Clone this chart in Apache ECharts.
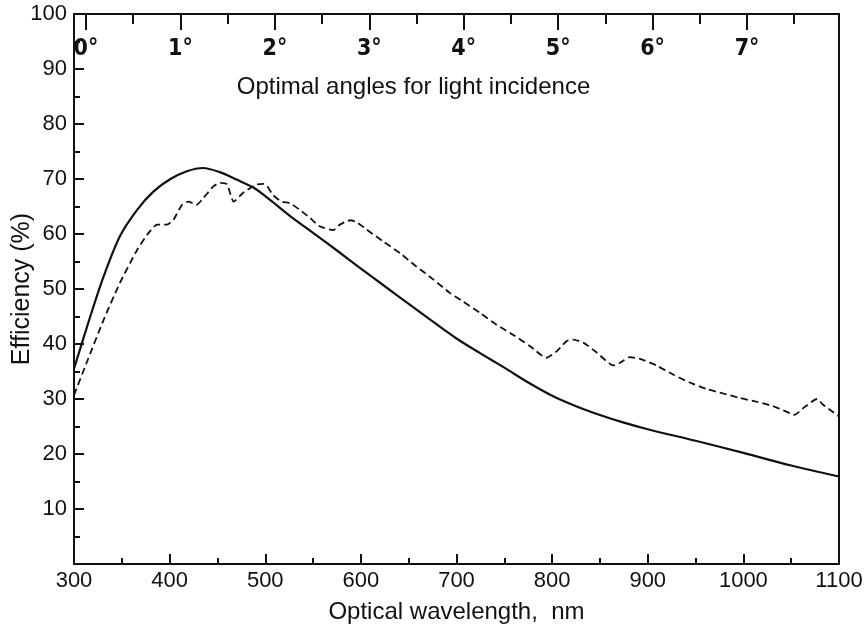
<!DOCTYPE html>
<html>
<head>
<meta charset="utf-8">
<script src="https://cdn.jsdelivr.net/npm/echarts@6/dist/echarts.min.js"></script>
<style>html,body{margin:0;padding:0;background:#fff;}#c{width:867px;height:626px;}</style>
</head>
<body>
<div id="c"></div>
<script>
// ---- data ----
const solidWavelength = [300, 317, 331, 348, 366, 383, 400, 418, 435, 453, 470, 488, 505, 525, 550, 575, 600, 625, 650, 675, 700, 725, 750, 775, 800, 825, 850, 875, 900, 950, 1000, 1050, 1100];
const solidEfficiency = [35.5, 45.0, 52.3, 59.6, 64.4, 67.7, 69.9, 71.4, 72.0, 71.2, 69.9, 68.4, 66.2, 63.4, 60.2, 57.0, 53.7, 50.5, 47.3, 44.1, 41.0, 38.3, 35.7, 33.0, 30.6, 28.7, 27.1, 25.7, 24.5, 22.4, 20.2, 17.9, 15.9];

const dashedWavelength = [300, 313, 331, 348, 366, 378, 387, 397, 404, 413, 420, 428, 435, 446, 453, 460, 467, 477, 491, 498, 502, 508, 517, 526, 536, 547, 557, 571, 578, 589, 596, 606, 623, 641, 658, 676, 693, 707, 725, 742, 759, 777, 794, 805, 815, 822, 833, 847, 864, 873, 881, 892, 909, 927, 944, 962, 979, 996, 1014, 1031, 1045, 1053, 1063, 1077, 1083, 1094, 1100];
const dashedEfficiency = [30.7, 36.5, 44.4, 51.1, 57.1, 60.2, 61.7, 61.7, 62.6, 65.3, 65.9, 65.3, 66.5, 68.7, 69.3, 69.0, 65.9, 67.5, 69.0, 69.1, 68.7, 67.1, 65.9, 65.6, 64.4, 62.9, 61.4, 60.7, 61.7, 62.5, 62.1, 60.8, 58.7, 56.5, 54.1, 51.7, 49.3, 47.7, 45.6, 43.5, 41.7, 39.6, 37.5, 38.7, 40.5, 40.8, 40.2, 38.4, 36.1, 36.8, 37.6, 37.3, 36.1, 34.4, 33.0, 31.8, 31.0, 30.2, 29.5, 28.7, 27.7, 27.1, 28.4, 30.0, 29.0, 27.6, 26.8];

const angleMajorTicks = [0, 1, 2, 3, 4, 5, 6, 7];
const angleMinorTicks = [0.5, 1.5, 2.5, 3.5, 4.5, 5.5, 6.5, 7.5];
const angleMin = -0.127;
const angleMax = 7.974;

const titleText = 'Optimal angles for light incidence';
const xName = 'Optical wavelength,  nm';
const yName = 'Efficiency (%)';

// ---- chart ----
const pairs = (xs, ys) => xs.map((x, i) => [x, ys[i]]);
const FONT = 'Liberation Sans';
const INK = '#111';

const chart = echarts.init(document.getElementById('c'), null, {renderer: 'canvas'});
chart.setOption({
  animation: false,
  backgroundColor: '#fff',
  grid: {left: 74, right: 28, top: 14, bottom: 62, show: true, borderColor: INK, borderWidth: 2, outerBoundsMode: 'none', containLabel: false},
  graphic: [{
    type: 'text', x: 413.5, y: 87,
    style: {text: titleText, fontFamily: FONT, fontSize: 24, fill: INK, align: 'center', verticalAlign: 'middle'}
  }],
  xAxis: [
    {
      type: 'value', min: 300, max: 1100, interval: 100, position: 'bottom',
      name: xName, nameLocation: 'middle', nameGap: 36, nameMoveOverlap: false,
      nameTextStyle: {fontFamily: FONT, fontSize: 24, color: INK},
      axisLine: {show: true, onZero: false, lineStyle: {color: INK, width: 2}},
      axisTick: {show: true, inside: true, length: 10, lineStyle: {color: INK, width: 2}},
      minorTick: {show: true, splitNumber: 2, length: 6, lineStyle: {color: INK, width: 2}},
      axisLabel: {margin: 6, fontFamily: FONT, fontSize: 22, color: INK, formatter: v => String(v)},
      splitLine: {show: false}
    },
    {
      type: 'value', min: angleMin, max: angleMax, position: 'top',
      axisLine: {show: true, onZero: false, lineStyle: {color: INK, width: 2}},
      axisTick: {show: true, inside: true, length: 16, customValues: angleMajorTicks, lineStyle: {color: INK, width: 2}},
      axisLabel: {show: true, inside: true, margin: 24, customValues: angleMajorTicks, formatter: v => v + '°',
        fontFamily: 'DejaVu Sans Condensed', fontWeight: 'bold', fontSize: 23, color: INK},
      splitLine: {show: false}
    },
    {
      type: 'value', min: angleMin, max: angleMax, position: 'top',
      axisLine: {show: false, onZero: false},
      axisTick: {show: true, inside: true, length: 10, customValues: angleMinorTicks, lineStyle: {color: INK, width: 2}},
      axisLabel: {show: false},
      splitLine: {show: false}
    }
  ],
  yAxis: [{
    type: 'value', min: 0, max: 100, interval: 10,
    name: yName, nameLocation: 'middle', nameGap: 39, nameMoveOverlap: false,
    nameTextStyle: {fontFamily: FONT, fontSize: 25, color: INK},
    axisLine: {show: true, onZero: false, lineStyle: {color: INK, width: 2}},
    axisTick: {show: true, inside: true, length: 10, lineStyle: {color: INK, width: 2}},
    minorTick: {show: true, splitNumber: 2, length: 6, lineStyle: {color: INK, width: 2}},
    axisLabel: {margin: 7, fontFamily: FONT, fontSize: 22, color: INK, formatter: v => v === 0 ? '' : String(v)},
    splitLine: {show: false}
  }],
  series: [
    {
      type: 'line', xAxisIndex: 0, yAxisIndex: 0, data: pairs(solidWavelength, solidEfficiency),
      showSymbol: false, smooth: 0.3, lineStyle: {color: INK, width: 2.2}
    },
    {
      type: 'line', xAxisIndex: 0, yAxisIndex: 0, data: pairs(dashedWavelength, dashedEfficiency),
      showSymbol: false, smooth: 0.2, lineStyle: {color: INK, width: 1.8, type: [7, 4]}
    }
  ]
});
</script>
</body>
</html>
